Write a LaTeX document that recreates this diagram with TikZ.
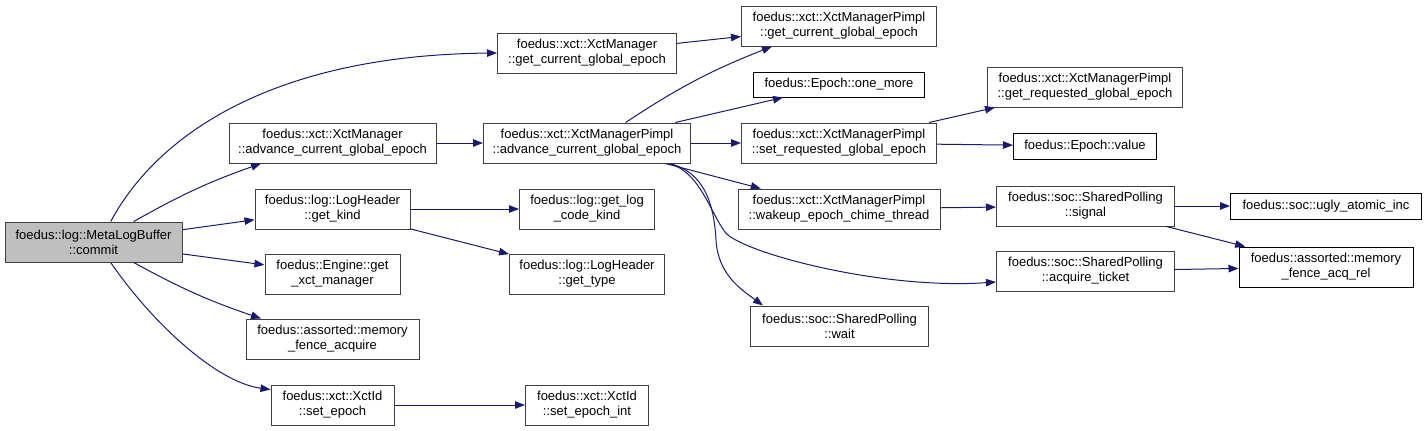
\documentclass[tikz,border=0pt]{standalone}
\usepackage{fontspec}
\setmainfont{Liberation Sans}
\usetikzlibrary{arrows.meta}
\definecolor{edgeblue}{RGB}{25,25,112}
\definecolor{boxgray}{RGB}{64,64,64}

\begin{document}
\begin{tikzpicture}[
  x=1pt, y=1pt,
  fn/.style={draw=boxgray, line width=1pt, align=center, inner sep=2pt,
    font=\fontsize{13}{15}\selectfont, minimum height=40pt},
  leaf/.style={fn, draw=black},
  call/.style={draw=edgeblue, line width=1pt,
    -{Triangle[length=10pt,width=7.5pt]}}
]
  \useasboundingbox (0,0) rectangle (1427,-431);

  % Caller
  \node[fn, fill=black!25, minimum width=177pt] (commit) at (93.5,-242)
    {foedus::log::MetaLogBuffer\\::commit};

  % First level
  \node[fn, minimum width=179pt] (mgrGetCur) at (587,-53)
    {foedus::xct::XctManager\\::get\_current\_global\_epoch};
  \node[fn, minimum width=207pt] (mgrAdvance) at (332.5,-143)
    {foedus::xct::XctManager\\::advance\_current\_global\_epoch};
  \node[fn, minimum width=155pt] (getKind) at (332.5,-209)
    {foedus::log::LogHeader\\::get\_kind};
  \node[fn, minimum width=135pt] (getXctMgr) at (332.5,-274)
    {foedus::Engine::get\\\_xct\_manager};
  \node[fn, minimum width=173pt] (fenceAcq) at (332.5,-339)
    {foedus::assorted::memory\\\_fence\_acquire};
  \node[fn, minimum width=123pt] (setEpoch) at (332.5,-405)
    {foedus::xct::XctId\\::set\_epoch};

  % Second level
  \node[fn, minimum width=207pt] (pimplAdvance) at (587,-143)
    {foedus::xct::XctManagerPimpl\\::advance\_current\_global\_epoch};
  \node[fn, minimum width=135pt] (getLogCode) at (587,-209)
    {foedus::log::get\_log\\\_code\_kind};
  \node[fn, minimum width=155pt] (getType) at (587,-274)
    {foedus::log::LogHeader\\::get\_type};
  \node[fn, minimum width=123pt] (setEpochInt) at (587,-405)
    {foedus::xct::XctId\\::set\_epoch\_int};

  % Third level
  \node[fn, minimum width=195pt] (pimplGetCur) at (839,-26)
    {foedus::xct::XctManagerPimpl\\::get\_current\_global\_epoch};
  \node[leaf, minimum width=171pt, minimum height=25pt] (oneMore) at (839,-84.5)
    {foedus::Epoch::one\_more};
  \node[fn, minimum width=195pt] (setReq) at (839,-143)
    {foedus::xct::XctManagerPimpl\\::set\_requested\_global\_epoch};
  \node[fn, minimum width=202pt] (wakeup) at (839,-209)
    {foedus::xct::XctManagerPimpl\\::wakeup\_epoch\_chime\_thread};
  \node[fn, minimum width=178pt] (wait) at (839.5,-326)
    {foedus::soc::SharedPolling\\::wait};

  % Fourth level
  \node[fn, minimum width=195pt] (getReq) at (1085,-87)
    {foedus::xct::XctManagerPimpl\\::get\_requested\_global\_epoch};
  \node[leaf, minimum width=143pt, minimum height=26pt] (epochValue) at (1085,-146)
    {foedus::Epoch::value};
  \node[fn, minimum width=178pt] (signal) at (1085.5,-206)
    {foedus::soc::SharedPolling\\::signal};
  \node[fn, minimum width=178pt] (acquire) at (1085.5,-271)
    {foedus::soc::SharedPolling\\::acquire\_ticket};

  % Fifth level
  \node[leaf, minimum width=191pt, minimum height=26pt] (uglyInc) at (1326,-206)
    {foedus::soc::ugly\_atomic\_inc};
  \node[leaf, minimum width=174pt] (fenceAcqRel) at (1326,-267)
    {foedus::assorted::memory\\\_fence\_acq\_rel};

  % Calls from commit
  \draw[call] (commit.50) .. controls (160,-130) and (280,-55) .. (mgrGetCur.west);
  \draw[call] (commit.27) to[bend left=5] (mgrAdvance.196);
  \draw[call] (commit) -- (getKind);
  \draw[call] (commit) -- (getXctMgr);
  \draw[call] (commit.-27) to[bend right=5] (fenceAcq.164);
  \draw[call] (commit.-50) .. controls (150,-320) and (215,-382) .. (setEpoch.166);

  \draw[call] (mgrAdvance) -- (pimplAdvance);
  \draw[call] (mgrGetCur) -- (pimplGetCur);
  \draw[call] (getKind) -- (getLogCode);
  \draw[call] (getKind) -- (getType);
  \draw[call] (setEpoch) -- (setEpochInt);

  % Calls from the pimpl
  \draw[call] (pimplAdvance.28) to[bend left=6] (pimplGetCur.197);
  \draw[call] (pimplAdvance) -- (oneMore);
  \draw[call] (pimplAdvance) -- (setReq);
  \draw[call] (pimplAdvance) -- (wakeup);
  \draw[call] (pimplAdvance.-14) .. controls (700,-172) and (710,-212) .. (725,-232)
    .. controls (740,-252) and (880,-290) .. (acquire.187);
  \draw[call] (pimplAdvance.-14) .. controls (705,-172) and (714,-205) .. (716,-240)
    .. controls (718,-275) and (742,-290) .. (wait.165);

  \draw[call] (setReq) -- (getReq);
  \draw[call] (setReq) -- (epochValue);
  \draw[call] (wakeup) -- (signal);
  \draw[call] (signal) -- (uglyInc);
  \draw[call] (signal) -- (fenceAcqRel);
  \draw[call] (acquire) -- (fenceAcqRel);
\end{tikzpicture}
\end{document}
